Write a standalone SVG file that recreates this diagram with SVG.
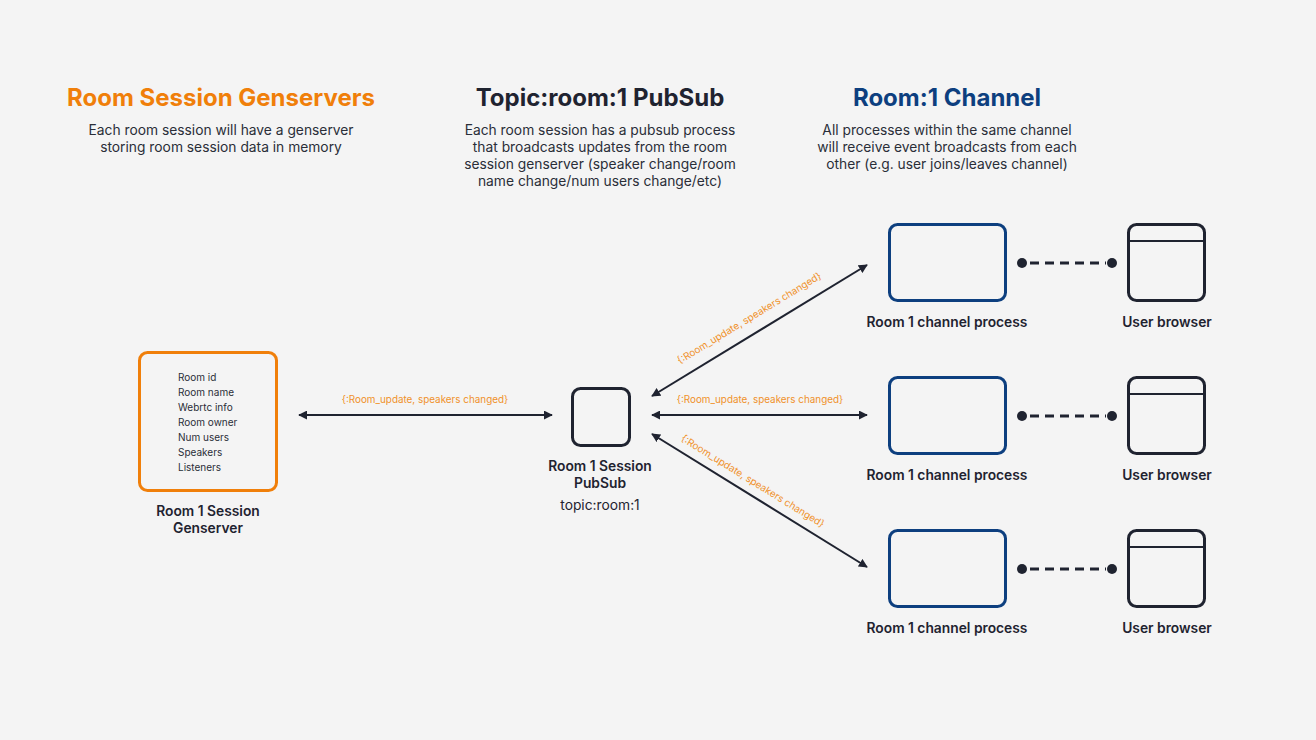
<svg xmlns="http://www.w3.org/2000/svg" width="1316" height="740" viewBox="0 0 1316 740">
  <style>
    .title { font-family: Inter, "Liberation Sans", sans-serif; font-size: 24px; font-weight: 700; text-anchor: middle; }
    .desc { font-family: Inter, "Liberation Sans", sans-serif; font-size: 13.8px; fill: #2A2E38; text-anchor: middle; }
    .lbl { font-family: Inter, "Liberation Sans", sans-serif; font-size: 13.8px; font-weight: 600; fill: #1F2330; text-anchor: middle; }
    .sub { font-family: Inter, "Liberation Sans", sans-serif; font-size: 13.8px; fill: #1F2330; text-anchor: middle; }
    .item { font-family: Inter, "Liberation Sans", sans-serif; font-size: 10px; fill: #2A2E38; }
    .msg { font-family: Inter, "Liberation Sans", sans-serif; font-size: 9.9px; fill: #F0912A; text-anchor: middle; }
    .orange { fill: none; stroke: #F07F0A; stroke-width: 3; }
    .dark { fill: none; stroke: #1F2330; stroke-width: 3; }
    .blue { fill: none; stroke: #0D3F7F; stroke-width: 3; }
    .conn { stroke: #1F2330; stroke-width: 2; fill: none; }
  </style>
  <defs>
    <marker id="arr" viewBox="0 0 10 10" refX="9" refY="5" markerWidth="9" markerHeight="9" markerUnits="userSpaceOnUse" orient="auto-start-reverse">
      <path d="M0,0 L10,5 L0,10 z" fill="#1F2330"/>
    </marker>
  </defs>
  <rect width="1316" height="740" fill="#F4F4F4"/>

  <!-- column headings -->
  <g id="heading-genservers">
    <text class="title" x="221" y="106" fill="#F07F0A">Room Session Genservers</text>
    <text class="desc" x="221" y="135">Each room session will have a genserver</text>
    <text class="desc" x="221" y="152">storing room session data in memory</text>
  </g>
  <g id="heading-pubsub">
    <text class="title" x="600" y="106" fill="#1F2330">Topic:room:1 PubSub</text>
    <text class="desc" x="600" y="135">Each room session has a pubsub process</text>
    <text class="desc" x="600" y="152">that broadcasts updates from the room</text>
    <text class="desc" x="600" y="169">session genserver (speaker change/room</text>
    <text class="desc" x="600" y="186">name change/num users change/etc)</text>
  </g>
  <g id="heading-channel">
    <text class="title" x="947" y="106" fill="#0D3F7F">Room:1 Channel</text>
    <text class="desc" x="947" y="135">All processes within the same channel</text>
    <text class="desc" x="947" y="152">will receive event broadcasts from each</text>
    <text class="desc" x="947" y="169">other (e.g. user joins/leaves channel)</text>
  </g>

  <!-- connectors -->
  <g id="connectors">
    <line class="conn" x1="299" y1="415" x2="552" y2="415" marker-start="url(#arr)" marker-end="url(#arr)"/>
    <text class="msg" x="425" y="403">{:Room_update, speakers changed}</text>

    <line class="conn" x1="652" y1="396" x2="867" y2="265" marker-start="url(#arr)" marker-end="url(#arr)"/>
    <text class="msg" transform="translate(751,321) rotate(-31.3)">{:Room_update, speakers changed}</text>

    <line class="conn" x1="652" y1="415" x2="867" y2="415" marker-start="url(#arr)" marker-end="url(#arr)"/>
    <text class="msg" x="760" y="403">{:Room_update, speakers changed}</text>

    <line class="conn" x1="652" y1="434" x2="867" y2="567" marker-start="url(#arr)" marker-end="url(#arr)"/>
    <text class="msg" transform="translate(751,484) rotate(31.7)">{:Room_update, speakers changed}</text>

    <g stroke="#1F2330" stroke-width="3" stroke-dasharray="9,6">
      <line x1="1030" y1="263" x2="1106" y2="263"/>
      <line x1="1030" y1="416" x2="1106" y2="416"/>
      <line x1="1030" y1="569" x2="1106" y2="569"/>
    </g>
    <g fill="#1F2330">
      <circle cx="1022" cy="263" r="5"/><circle cx="1112" cy="263" r="5"/>
      <circle cx="1022" cy="416" r="5"/><circle cx="1112" cy="416" r="5"/>
      <circle cx="1022" cy="569" r="5"/><circle cx="1112" cy="569" r="5"/>
    </g>
  </g>

  <!-- nodes -->
  <g id="genserver">
    <rect class="orange" x="139.5" y="352.5" width="137" height="138" rx="8"/>
    <text class="item" x="178" y="381">Room id</text>
    <text class="item" x="178" y="396">Room name</text>
    <text class="item" x="178" y="411">Webrtc info</text>
    <text class="item" x="178" y="426">Room owner</text>
    <text class="item" x="178" y="441">Num users</text>
    <text class="item" x="178" y="456">Speakers</text>
    <text class="item" x="178" y="471">Listeners</text>
    <text class="lbl" x="208" y="516">Room 1 Session</text>
    <text class="lbl" x="208" y="533">Genserver</text>
  </g>

  <g id="pubsub">
    <rect class="dark" x="572.5" y="388.5" width="57" height="57" rx="8"/>
    <text class="lbl" x="600" y="471">Room 1 Session</text>
    <text class="lbl" x="600" y="488">PubSub</text>
    <text class="sub" x="600" y="510">topic:room:1</text>
  </g>

  <g id="channel-1">
    <rect class="blue" x="889.5" y="224.5" width="116" height="76" rx="8"/>
    <text class="lbl" x="947" y="327">Room 1 channel process</text>
  </g>
  <g id="channel-2">
    <rect class="blue" x="889.5" y="377.5" width="116" height="76" rx="8"/>
    <text class="lbl" x="947" y="480">Room 1 channel process</text>
  </g>
  <g id="channel-3">
    <rect class="blue" x="889.5" y="530.5" width="116" height="76" rx="8"/>
    <text class="lbl" x="947" y="633">Room 1 channel process</text>
  </g>

  <g id="browser-1">
    <rect class="dark" x="1128.5" y="224.5" width="76" height="76" rx="8"/>
    <line x1="1128.5" y1="241" x2="1204.5" y2="241" stroke="#1F2330" stroke-width="2"/>
    <text class="lbl" x="1167" y="327">User browser</text>
  </g>
  <g id="browser-2">
    <rect class="dark" x="1128.5" y="377.5" width="76" height="76" rx="8"/>
    <line x1="1128.5" y1="394" x2="1204.5" y2="394" stroke="#1F2330" stroke-width="2"/>
    <text class="lbl" x="1167" y="480">User browser</text>
  </g>
  <g id="browser-3">
    <rect class="dark" x="1128.5" y="530.5" width="76" height="76" rx="8"/>
    <line x1="1128.5" y1="547" x2="1204.5" y2="547" stroke="#1F2330" stroke-width="2"/>
    <text class="lbl" x="1167" y="633">User browser</text>
  </g>
</svg>
